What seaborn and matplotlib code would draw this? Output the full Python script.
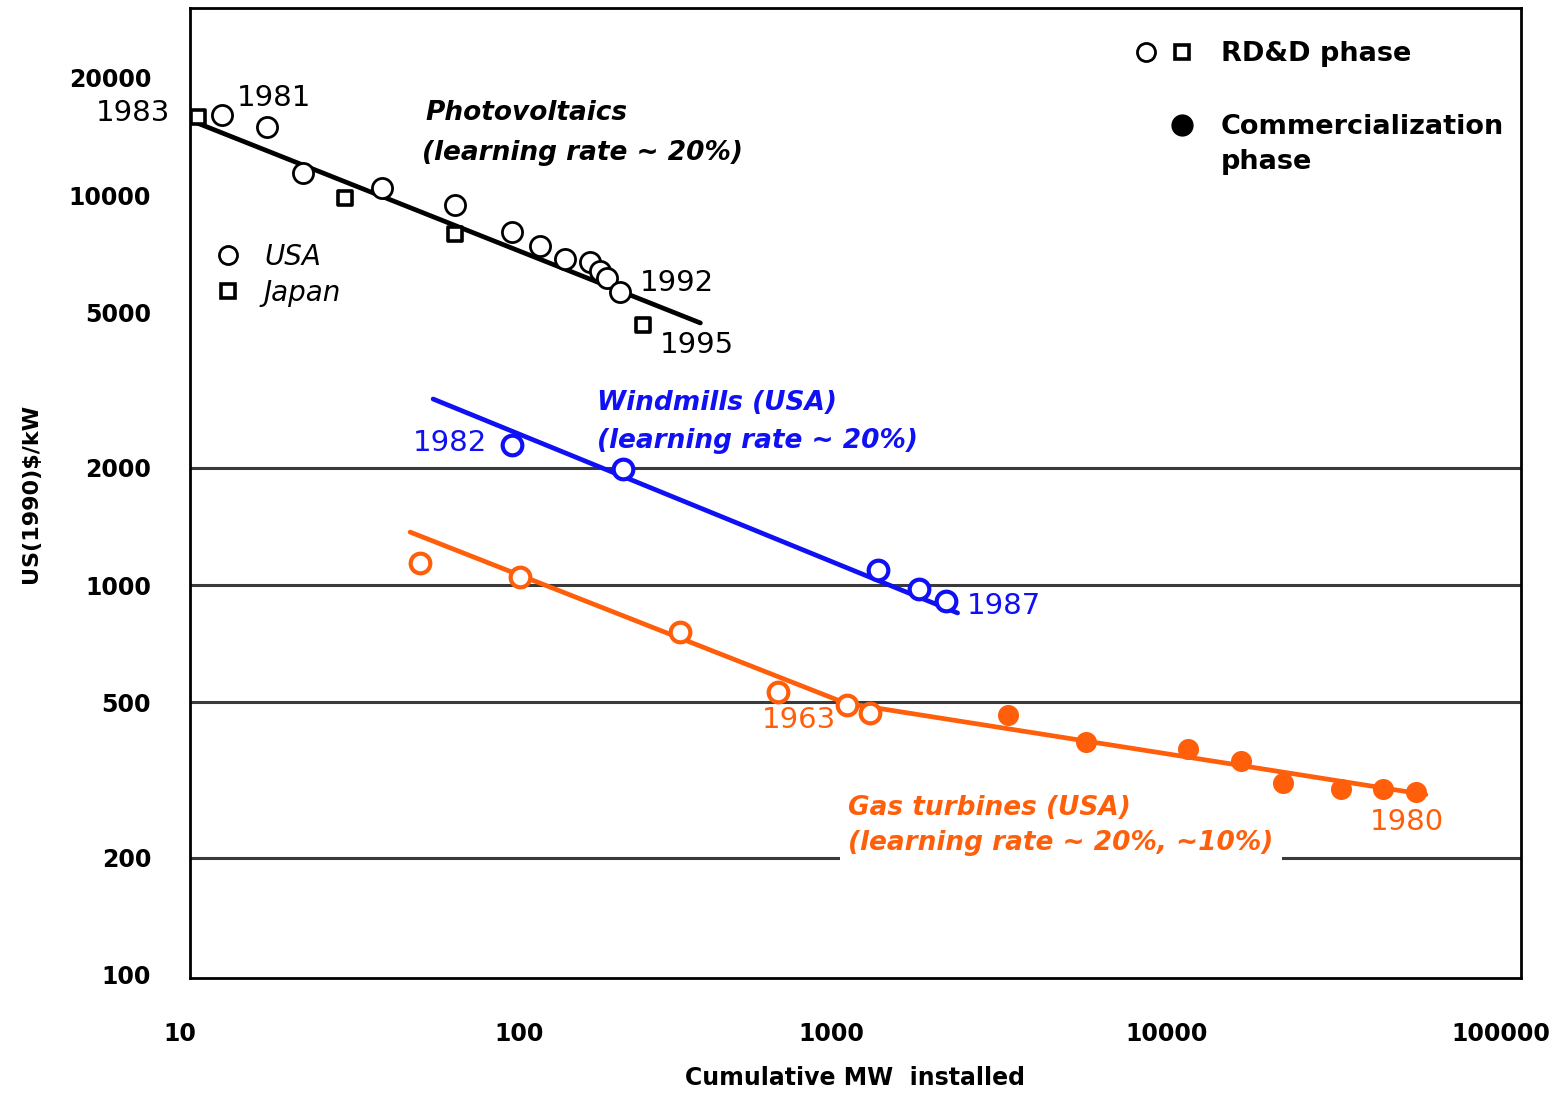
import numpy as np
import pandas as pd
import matplotlib
matplotlib.use("Agg")
import matplotlib.pyplot as plt
import matplotlib.transforms as mtrans
import seaborn as sns
from matplotlib.lines import Line2D
from matplotlib.legend_handler import HandlerTuple

# ---------------- data ----------------
pv_usa_mw = [12.5, 17.0, 21.9, 37.8, 62.7, 93.0, 112.9, 134.2, 159.6, 171.0, 179.6, 196.4]
pv_usa_cost = [16030, 14940, 11380, 10420, 9430, 8040, 7400, 6850, 6730, 6385, 6125, 5640]
pv_japan_mw = [10.6, 29.3, 62.7, 230.0]
pv_japan_cost = [15850, 9830, 7950, 4640]
pv_fit_mw = [10, 342]
pv_fit_cost = [15570, 4700]

wind_mw = [93.0, 200.5, 1172, 1548, 1866]
wind_cost = [2286, 1983, 1092, 977, 910]
wind_fit_mw = [53.8, 2028]
wind_fit_cost = [3000, 848]

gas_rdd_mw = [49.2, 98.3, 297.7, 586.8, 946, 1109]
gas_rdd_cost = [1139, 1049, 757, 532, 492, 470]
gas_comm_mw = [2884, 4920, 9960, 14380, 19240, 28760, 38460, 48310]
gas_comm_cost = [464, 396, 380, 354, 311, 300, 300, 294]
gas_fit_mw = [45.9, 933, 51800]
gas_fit_cost = [1367, 498, 290]

x_ticks = [10, 100, 1000, 10000, 100000]
y_ticks = [100, 200, 500, 1000, 2000, 5000, 10000, 20000]
grid_levels = [200, 500, 1000, 2000]

BLUE = "#1010f5"
ORANGE = "#ff5f0a"

sns.set_style("white")
plt.rcParams["font.family"] = ["DejaVu Sans"]
plt.rcParams["text.color"] = "black"
plt.rcParams["axes.labelcolor"] = "black"
plt.rcParams["xtick.color"] = "black"
plt.rcParams["ytick.color"] = "black"

fig = plt.figure(figsize=(15.62, 10.95), dpi=100)
ax = fig.add_axes([0.1216, 0.1068, 0.8521, 0.8858])
ax.set_xscale("log")
ax.set_yscale("log")

for lvl in grid_levels:
    ax.axhline(lvl, color="#3a3a3a", lw=2.2, zorder=1)

# fitted lines
sns.lineplot(x=pv_fit_mw, y=pv_fit_cost, color="black", lw=3.4, estimator=None, ax=ax, zorder=3)
sns.lineplot(x=wind_fit_mw, y=wind_fit_cost, color=BLUE, lw=3.4, estimator=None, ax=ax, zorder=3)
sns.lineplot(x=gas_fit_mw, y=gas_fit_cost, color=ORANGE, lw=3.4, estimator=None, ax=ax, zorder=3)

# points
sns.scatterplot(x=pv_usa_mw, y=pv_usa_cost, marker="o", s=210, facecolor="white",
                edgecolor="black", linewidth=2.0, ax=ax, zorder=4)
sns.scatterplot(x=pv_japan_mw, y=pv_japan_cost, marker="s", s=110, facecolor="white",
                edgecolor="black", linewidth=2.6, ax=ax, zorder=4)
sns.scatterplot(x=wind_mw, y=wind_cost, marker="o", s=200, facecolor="white",
                edgecolor=BLUE, linewidth=3.0, ax=ax, zorder=4)
sns.scatterplot(x=gas_rdd_mw, y=gas_rdd_cost, marker="o", s=200, facecolor="white",
                edgecolor=ORANGE, linewidth=3.0, ax=ax, zorder=4)
sns.scatterplot(x=gas_comm_mw, y=gas_comm_cost, marker="o", s=230, facecolor=ORANGE,
                edgecolor=ORANGE, linewidth=0, ax=ax, zorder=4)

ax.set_xlim(10, 100000)
ax.set_ylim(98.2, 30170)
ax.minorticks_off()
ax.set_xticks(x_ticks)
ax.set_xticklabels([str(t) for t in x_ticks])
ax.set_yticks(y_ticks)
ax.set_yticklabels([str(t) for t in y_ticks])
ax.tick_params(axis="both", length=0, labelsize=17, labelcolor="black")
ax.tick_params(axis="x", pad=32)
ax.tick_params(axis="y", pad=28)
for lab in ax.get_xticklabels() + ax.get_yticklabels():
    lab.set_fontweight("bold")
# the reference's x tick labels sit slightly left of their grid positions
for lab, dx in zip(ax.get_xticklabels(), [-10, -4, -24, -22, -20]):
    lab.set_transform(lab.get_transform() + mtrans.ScaledTranslation(dx / 100, 0, fig.dpi_scale_trans))
for sp in ax.spines.values():
    sp.set_visible(True)
    sp.set_color("black")
    sp.set_linewidth(2)

ax.set_xlabel("Cumulative MW  installed", fontsize=17, fontweight="bold", labelpad=14)
ax.set_ylabel("US(1990)$/kW", fontsize=16, fontweight="bold", labelpad=20)

T = ax.transAxes
def txt(x, y, s, color="black", size=21, ha="left", **kw):
    return ax.text(x, y, s, transform=T, color=color, fontsize=size, ha=ha, va="center", **kw)

bi = dict(fontweight="bold", fontstyle="italic", size=19)
txt(-0.015, 0.892, "1983", ha="right")
txt(0.0353, 0.907, "1981")
txt(0.1766, 0.892, "Photovoltaics", **bi)
txt(0.1743, 0.8505, "(learning rate ~ 20%)", **bi)
txt(0.338, 0.7165, "1992")
txt(0.353, 0.6526, "1995")
txt(0.3058, 0.5928, "Windmills (USA)", color=BLUE, **bi)
txt(0.3058, 0.5536, "(learning rate ~ 20%)", color=BLUE, **bi)
txt(0.1675, 0.5515, "1982", color=BLUE)
txt(0.5838, 0.3835, "1987", color=BLUE)
txt(0.4298, 0.266, "1963", color=ORANGE)
ax.text(0.4944, 0.157, "Gas turbines (USA)\n(learning rate ~ 20%, ~10%)", transform=T,
        color=ORANGE, fontsize=19, fontweight="bold", fontstyle="italic", ha="left",
        va="center", linespacing=1.45, zorder=2,
        bbox=dict(facecolor="white", edgecolor="none", pad=6))
txt(0.8865, 0.1608, "1980", color=ORANGE)

# legend: phases
h_circ = Line2D([], [], ls="none", marker="o", ms=13, mfc="white", mec="black", mew=2.0)
h_sq = Line2D([], [], ls="none", marker="s", ms=10, mfc="white", mec="black", mew=2.6)
h_none = Line2D([], [], ls="none", marker="o", ms=13, alpha=0)
h_fill = Line2D([], [], ls="none", marker="o", ms=15, mfc="black", mec="black")
leg1 = ax.legend([(h_circ, h_sq), (h_none, h_fill)], ["RD&D phase", "Commercialization"],
                 handler_map={tuple: HandlerTuple(ndivide=None, pad=0.3)},
                 loc="upper right", bbox_to_anchor=(0.9875, 0.966), frameon=False,
                 prop=dict(weight="bold", size=19.5), labelspacing=1.75, handlelength=2.4,
                 handletextpad=0.9, borderaxespad=0, borderpad=0, labelcolor="black")
ax.add_artist(leg1)
txt(0.7746, 0.841, "phase", size=19.5, fontweight="bold")

# legend: countries
h_usa = Line2D([], [], ls="none", marker="o", ms=13, mfc="white", mec="black", mew=2.0)
h_jp = Line2D([], [], ls="none", marker="s", ms=10, mfc="white", mec="black", mew=2.6)
ax.legend([h_usa, h_jp], ["USA", "Japan"], loc="upper left", bbox_to_anchor=(0.018, 0.758),
          frameon=False, prop=dict(style="italic", size=20), labelspacing=0.3,
          handlelength=1.0, handletextpad=0.8, borderaxespad=0, borderpad=0, labelcolor="black")

fig.savefig("out.png", dpi=100)
